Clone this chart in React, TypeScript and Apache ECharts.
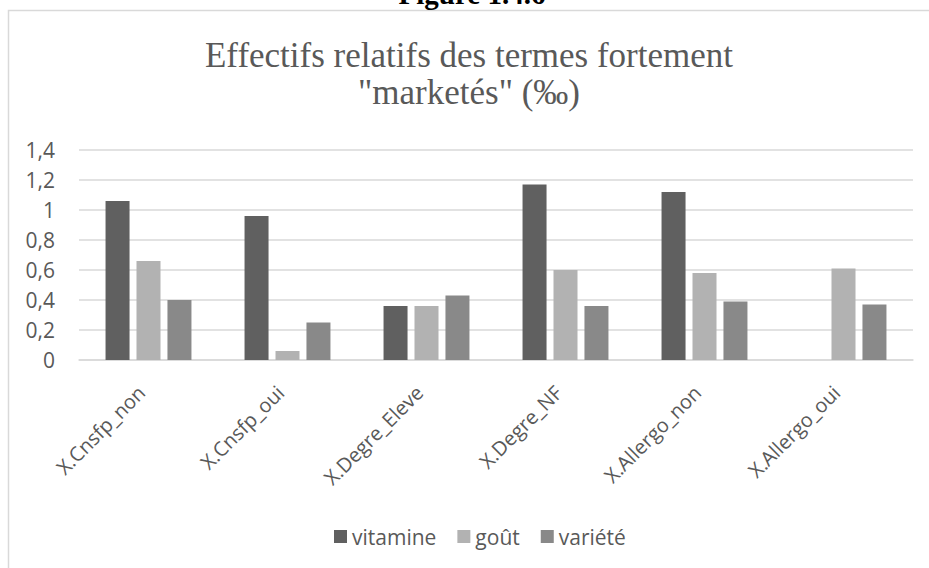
import React, { useEffect, useRef } from "react";
import * as echarts from "echarts";

const categories = ["X.Cnsfp_non", "X.Cnsfp_oui", "X.Degre_Eleve", "X.Degre_NF", "X.Allergo_non", "X.Allergo_oui"];
const vitamine = [1.06, 0.96, 0.36, 1.17, 1.12, 0];
const gout = [0.66, 0.06, 0.36, 0.6, 0.58, 0.61];
const variete = [0.4, 0.25, 0.43, 0.36, 0.39, 0.37];
const seriesNames = ["vitamine", "goût", "variété"];
const titleText = "Effectifs relatifs des termes fortement\n\"marketés\" (‰)";
const captionText = "Figure 1.4.6";

export default function App() {
  const ref = useRef<HTMLDivElement>(null);
  useEffect(() => {
    if (!ref.current) return;
    const chart = echarts.init(ref.current, null, { renderer: "svg" });
    const sans = "'Open Sans', 'Noto Sans', sans-serif";
    const colors = ["#606060", "#b2b2b2", "#898989"];
    const datasets = [vitamine, gout, variete];
    chart.setOption({
      animation: false,
      backgroundColor: "#ffffff",
      color: colors,
      title: {
        text: titleText,
        left: 464,
        textAlign: "center",
        top: 32,
        textStyle: {
          fontFamily: "'Liberation Serif', 'Times New Roman', serif",
          fontWeight: "normal",
          fontSize: 35,
          lineHeight: 37,
          color: "#595959",
        },
      },
      graphic: [
        {
          type: "rect",
          shape: { x: 8.5, y: 10.5, width: 1000, height: 1000 },
          style: { fill: "none", stroke: "#d9d9d9", lineWidth: 1.5 },
          z: 0,
        },
        {
          type: "text",
          x: 472,
          y: 8,
          style: {
            text: captionText,
            font: "bold 29px 'Liberation Serif', serif",
            fill: "#000000",
            textAlign: "center",
            textVerticalAlign: "bottom",
          },
          z: 1,
        },
      ],
      legend: {
        data: seriesNames,
        left: 329,
        top: 521,
        itemWidth: 13,
        itemHeight: 13,
        itemGap: 21,
        icon: "rect",
        textStyle: { fontFamily: sans, fontSize: 21, color: "#595959" },
      },
      grid: { left: 79, right: 16, top: 150, bottom: 208 },
      xAxis: {
        type: "category",
        data: categories,
        axisLine: { show: true, lineStyle: { color: "#d9d9d9", width: 1.5 } },
        axisTick: { show: false },
        axisLabel: {
          rotate: 45,
          interval: 0,
          margin: 22,
          padding: [0, 10, 0, 0],
          fontFamily: sans,
          fontSize: 20,
          color: "#595959",
        },
      },
      yAxis: {
        type: "value",
        min: 0,
        max: 1.4,
        interval: 0.2,
        axisLine: { show: false },
        axisTick: { show: false },
        splitLine: { lineStyle: { color: "#d9d9d9", width: 1.5 } },
        axisLabel: {
          margin: 24,
          fontFamily: sans,
          fontSize: 21,
          color: "#595959",
          formatter: (v: number) => {
            const r = Math.round(v * 10) / 10;
            return String(r).replace(".", ",");
          },
        },
      },
      series: seriesNames.map((name, i) => ({
        name,
        type: "bar",
        data: datasets[i],
        barWidth: 24,
        barGap: "29%",
        itemStyle: { color: colors[i] },
      })),
    });
    return () => chart.dispose();
  }, []);
  return (
    <div
      ref={ref}
      style={{ position: "fixed", left: 0, top: 0, width: 929, height: 568 }}
    />
  );
}
